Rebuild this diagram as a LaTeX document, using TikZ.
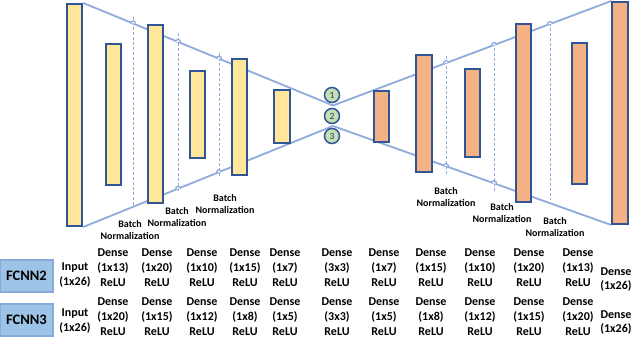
\documentclass[tikz,border=0pt]{standalone}
\usepackage{fontspec}
\setmainfont{Carlito}
\usetikzlibrary{backgrounds,intersections}
\definecolor{barblue}{HTML}{2F5597}
\definecolor{ybarfill}{HTML}{FFE699}
\definecolor{obarfill}{HTML}{F4B183}
\definecolor{netblue}{HTML}{8FAADC}
\definecolor{circfill}{HTML}{C5E0B4}
\definecolor{numcol}{HTML}{203864}
\definecolor{tagfill}{HTML}{9DC3E6}
\definecolor{tagborder}{HTML}{86ACDA}
\tikzset{
  bar/.style={draw=barblue, line width=2pt, minimum width=15.5pt, inner sep=0pt},
  ybar/.style={bar, fill=ybarfill},
  obar/.style={bar, fill=obarfill},
  net/.style={draw=netblue, line width=1.8pt},
  bnl/.style={draw=netblue, line width=0.8pt, dash pattern=on 3pt off 2pt},
  bnlab/.style={font=\bfseries\fontsize{10}{12}\selectfont, align=center, inner sep=0pt},
  cell/.style={font=\bfseries\fontsize{12}{15}\selectfont, align=center, inner sep=0pt},
  cellb/.style={font=\bfseries\fontsize{12}{14}\selectfont, align=center, inner sep=0pt},
  tag/.style={draw=tagborder, fill=tagfill, line width=1.2pt, minimum width=53pt, minimum height=32pt, inner sep=0pt, font=\bfseries\fontsize{14.5}{16}\selectfont},
  num/.style={circle, draw=barblue, fill=circfill, line width=1.5pt, minimum size=15pt, inner sep=0pt, font=\fontsize{9.5}{9.5}\selectfont, text=numcol}
}
\newcommand\myhop[2]{%
  \path[name intersections={of=#1 and #2, by=hp}];
  \fill[white] ([xshift=-2.2pt]hp) arc[start angle=180, end angle=0, radius=2.2pt] -- cycle;
  \draw[net, line width=1.3pt] ([xshift=-2.4pt]hp) arc[start angle=180, end angle=0, radius=2.4pt];
}
\begin{document}
\begin{tikzpicture}[x=1pt,y=-1pt]
\useasboundingbox (0,0) rectangle (640,339);
% bars, left half
\node[ybar, minimum height=222pt] (b1) at (74.5,115) {};
\node[ybar, minimum height=141pt] (b2) at (113.5,114.5) {};
\node[ybar, minimum height=178pt] (b3) at (155.5,114) {};
\node[ybar, minimum height=87pt]  (b4) at (197.5,114.5) {};
\node[ybar, minimum height=116pt] (b5) at (239.5,117) {};
\node[ybar, minimum height=53pt]  (b6) at (282,116.5) {};
% bars, right half
\node[obar, minimum height=51pt]  (b7)  at (381.5,116.5) {};
\node[obar, minimum height=117pt] (b8)  at (424,113.5) {};
\node[obar, minimum height=88pt]  (b9)  at (472.5,113) {};
\node[obar, minimum height=178pt] (b10) at (523.5,113) {};
\node[obar, minimum height=141pt] (b11) at (579.5,113.5) {};
\node[obar, minimum height=222pt] (b12) at (620,113) {};
% bottleneck
\node[num] (n1) at (332,95) {1};
\node[num] (n2) at (332,116) {2};
\node[num] (n3) at (332,136) {3};
\coordinate (xt) at (333,105.5);
\coordinate (xb) at (333,126);
\begin{pgfonlayer}{background}
  \draw[net, name path global=T1] (b1.north east) -- (xt);
  \draw[net, name path global=B1] (b1.south east) -- (xb);
  \draw[net, name path global=T2] (xt) -- (b12.north west);
  \draw[net, name path global=B2] (xb) -- (b12.south west);
  \draw[bnl, name path global=d1] (133,17) -- (133,206);
  \draw[bnl, name path global=d2] (178,33) -- (178,192);
  \draw[bnl, name path global=d3] (219,53) -- (219,177);
  \draw[bnl, name path global=d4] (446,56) -- (446,175);
  \draw[bnl, name path global=d5] (494,43) -- (494,193);
  \draw[bnl, name path global=d6] (550,23) -- (550,200);
\end{pgfonlayer}
% hops where the lines cross the dashed lines
\myhop{T1}{d1}\myhop{T1}{d2}\myhop{T1}{d3}
\myhop{B1}{d1}\myhop{B1}{d2}\myhop{B1}{d3}
\myhop{T2}{d4}\myhop{T2}{d5}\myhop{T2}{d6}
\myhop{B2}{d4}\myhop{B2}{d5}\myhop{B2}{d6}
% batch normalization labels
\node[bnlab] (bn1) at (130,230) {Batch\\Normalization};
\node[bnlab] (bn2) at (177,217.5) {Batch\\Normalization};
\node[bnlab] (bn3) at (225,204.5) {Batch\\Normalization};
\node[bnlab] (bn4) at (446,197.5) {Batch\\Normalization};
\node[bnlab] (bn5) at (502,213) {Batch\\Normalization};
\node[bnlab] (bn6) at (555,227) {Batch\\Normalization};
% table
\node[tag] (f2) at (26.5,276) {FCNN2};
\node[tag] (f3) at (26.5,320) {FCNN3};
\node[cell] (i2) at (75,275) {Input\\(1x26)};
\node[cell] (i3) at (75,321.5) {Input\\(1x26)};
\foreach \x/\t [count=\i] in {113/1x13,157/1x20,202/1x10,245/1x15,285/1x7,337/3x3,384/1x7,431/1x15,480/1x10,529/1x20,578/1x13}{
  \node[cell] (r2c\i) at (\x,267.5) {Dense\\(\t)\\ReLU};
}
\foreach \x/\t [count=\i] in {113/1x20,157/1x15,202/1x12,245/1x8,285/1x5,337/3x3,384/1x5,431/1x8,480/1x12,529/1x15,578/1x20}{
  \node[cell] (r3c\i) at (\x,317) {Dense\\(\t)\\ReLU};
}
\node[cellb] (o2) at (616,280) {Dense\\(1x26)};
\node[cellb] (o3) at (616,323) {Dense\\(1x26)};
\end{tikzpicture}
\end{document}
